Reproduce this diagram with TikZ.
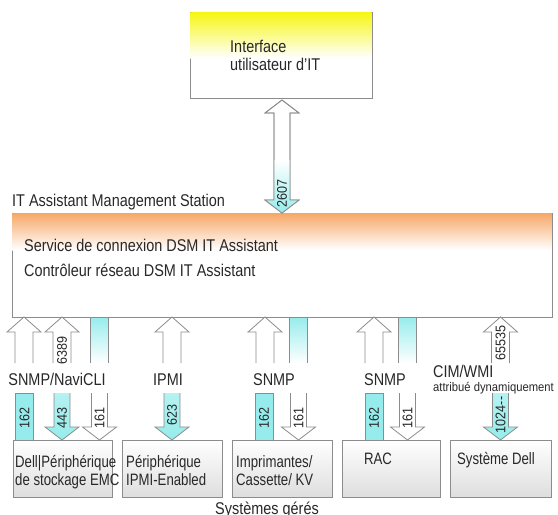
\documentclass[tikz,border=0pt]{standalone}
\usepackage{fontspec}
\setmainfont[FakeStretch=0.85]{Liberation Sans}
\newfontfamily\boxfont[FakeStretch=0.8]{Liberation Sans}
\newfontfamily\numfont[FakeStretch=0.9]{Liberation Sans}
\newfontfamily\smallfont[FakeStretch=0.9]{Liberation Sans}
\definecolor{cyanA}{RGB}{150,236,236}
\definecolor{orangeA}{RGB}{246,168,104}
\definecolor{yellowA}{RGB}{246,246,20}
\definecolor{edgeA}{RGB}{140,140,140}
\definecolor{boxbot}{RGB}{222,222,222}
\definecolor{textA}{RGB}{40,40,40}
\newcommand\UpArrow[4]{%
  \path[#4] ({#1-9},#3) -- ({#1-9},{#2+15}) -- ({#1-17},{#2+15}) -- (#1,#2) -- ({#1+17},{#2+15}) -- ({#1+9},{#2+15}) -- ({#1+9},#3);}
\newcommand\DownArrow[4]{%
  \path[#4] ({#1-8},#2) -- ({#1-8},{#3-13}) -- ({#1-17},{#3-13}) -- (#1,#3) -- ({#1+17},{#3-13}) -- ({#1+8},{#3-13}) -- ({#1+8},#2);}
\newcommand\Bar[4]{%
  \path[#4] ({#1-9},#3) -- ({#1-9},#2) -- ({#1+9},#2) -- ({#1+9},#3);}
\begin{document}
\begin{tikzpicture}[x=1pt,y=-1pt,
  txt/.style={font=\fontsize{17}{19}\selectfont, text=textA, inner sep=0pt},
  num/.style={font=\numfont\fontsize{14}{15}\selectfont, text=textA, inner sep=0pt, rotate=90},
  boxtxt/.style={font=\boxfont\fontsize{16.5}{18}\selectfont, text=textA, inner sep=0pt, align=left},
  whiteup/.style={draw=edgeA, fill=white, line width=0.8pt, line join=miter},
  whitedown/.style={draw=edgeA, fill=white, line width=0.8pt},
  cyandown/.style={draw=edgeA, top color=cyanA!70, bottom color=cyanA, line width=0.8pt},
  cyanbar/.style={draw=edgeA, top color=cyanA, bottom color=white, line width=0.8pt},
  cyansolid/.style={draw=edgeA, fill=cyanA, line width=0.8pt},
  grbox/.style={draw=edgeA, top color=white, bottom color=boxbot, line width=0.8pt}]
\useasboundingbox (0,0) rectangle (558,515);
\fill[white] (0,0) rectangle (558,515);

% top box
\node[draw=edgeA, line width=0.8pt, minimum width=182pt, minimum height=86pt, inner sep=0pt, anchor=north west] (ui) at (190,12) {};
\shade[top color=yellowA, bottom color=white] (190.4,12.4) rectangle (371.6,58);
\node[txt, anchor=base west] (uit1) at (230,52) {Interface};
\node[txt, anchor=base west] (uit2) at (230,70) {utilisateur d'IT};

% main box
\node[draw=edgeA, line width=0.8pt, minimum width=540pt, minimum height=104pt, inner sep=0pt, anchor=north west] (main) at (12,213) {};
\shade[top color=orangeA, bottom color=white] (12.4,213.4) rectangle (551.6,250);
\node[txt, anchor=base west] (mst) at (12,206) {IT Assistant Management Station};
\node[txt, anchor=base west] (svc) at (24,251) {Service de connexion DSM IT Assistant};
\node[txt, anchor=base west] (ctl) at (24,276) {Contrôleur réseau DSM IT Assistant};

% double arrow 2607
\path[draw=edgeA, fill=white, line width=0.8pt] (282,100) -- (299,113) -- (290,113) -- (290,200) -- (299,200) -- (282,213) -- (265,200) -- (274,200) -- (274,113) -- (265,113) -- cycle;
\begin{scope}
\clip (282,100) -- (299,113) -- (290,113) -- (290,200) -- (299,200) -- (282,213) -- (265,200) -- (274,200) -- (274,113) -- (265,113) -- cycle;
\shade[top color=white, bottom color=cyanA] (260,160) rectangle (305,213);
\end{scope}
\path[draw=edgeA, line width=0.8pt] (282,100) -- (299,113) -- (290,113) -- (290,200) -- (299,200) -- (282,213) -- (265,200) -- (274,200) -- (274,113) -- (265,113) -- cycle;
\node[num] (n2607) at (282,193) {2607};

% upper arrows / bars (from main box)
\UpArrow{24}{317}{363}{whiteup}
\UpArrow{62}{317}{363}{whiteup}
\Bar{99.5}{317}{363}{cyanbar}
\UpArrow{172}{317}{363}{whiteup}
\UpArrow{265}{317}{363}{whiteup}
\Bar{298.5}{317}{363}{cyanbar}
\UpArrow{374}{317}{363}{whiteup}
\Bar{407.5}{317}{363}{cyanbar}
\UpArrow{500.5}{317}{363}{whiteup}
\node[num] (n6389) at (62,350) {6389};
\node[num] (n65535) at (500.5,343) {65535};

% protocol labels
\node[txt, anchor=base] (l1) at (57,385) {SNMP/NaviCLI};
\node[txt, anchor=base] (l2) at (168,385) {IPMI};
\node[txt, anchor=base] (l3) at (274,385) {SNMP};
\node[txt, anchor=base] (l4) at (385,385) {SNMP};
\node[txt, anchor=base west] (l5) at (433,377) {CIM/WMI};
\node[font=\smallfont\fontsize{12.5}{13}\selectfont, text=textA, inner sep=0pt, anchor=base west] (l6) at (433,391) {attribué dynamiquement};

% lower arrows / bars (to managed systems)
\Bar{24.5}{393}{440}{cyansolid}
\DownArrow{62}{393}{440}{cyandown}
\DownArrow{99.5}{393}{440}{whitedown}
\DownArrow{172}{393}{440}{cyandown}
\Bar{264}{393}{440}{cyansolid}
\DownArrow{298.5}{393}{440}{whitedown}
\Bar{374}{393}{440}{cyansolid}
\DownArrow{407.5}{393}{440}{whitedown}
\DownArrow{500.5}{393}{440}{cyandown}
\node[num] at (24.5,418) {162};
\node[num] at (62,418) {443};
\node[num] at (99.5,418) {161};
\node[num] at (172,415) {623};
\node[num] at (264,418) {162};
\node[num] at (298.5,418) {161};
\node[num] at (374,418) {162};
\node[num] at (407.5,418) {161};
\node[num] at (500.5,415) {1024--};

% managed systems boxes
\path[grbox] (13,440) rectangle (112,497);
\path[grbox] (122,440) rectangle (222,497);
\path[grbox] (232,440) rectangle (332,497);
\path[grbox] (342,440) rectangle (440,497);
\path[grbox] (450,440) rectangle (551,497);
\node[boxtxt, anchor=base west] (b1a) at (15,467) {Dell|Périphérique};
\node[boxtxt, anchor=base west] (b1b) at (15,485) {de stockage EMC};
\node[boxtxt, anchor=base west] (b2a) at (126,467) {Périphérique};
\node[boxtxt, anchor=base west] (b2b) at (126,485) {IPMI-Enabled};
\node[boxtxt, anchor=base west] (b3a) at (236,467) {Imprimantes/};
\node[boxtxt, anchor=base west] (b3b) at (236,485) {Cassette/ KV};
\node[boxtxt, anchor=base] (b4) at (378,464) {RAC};
\node[boxtxt, anchor=base] (b5) at (496,464) {Système Dell};
\node[txt, anchor=base] (sys) at (267,514) {Systèmes gérés};
\end{tikzpicture}
\end{document}
